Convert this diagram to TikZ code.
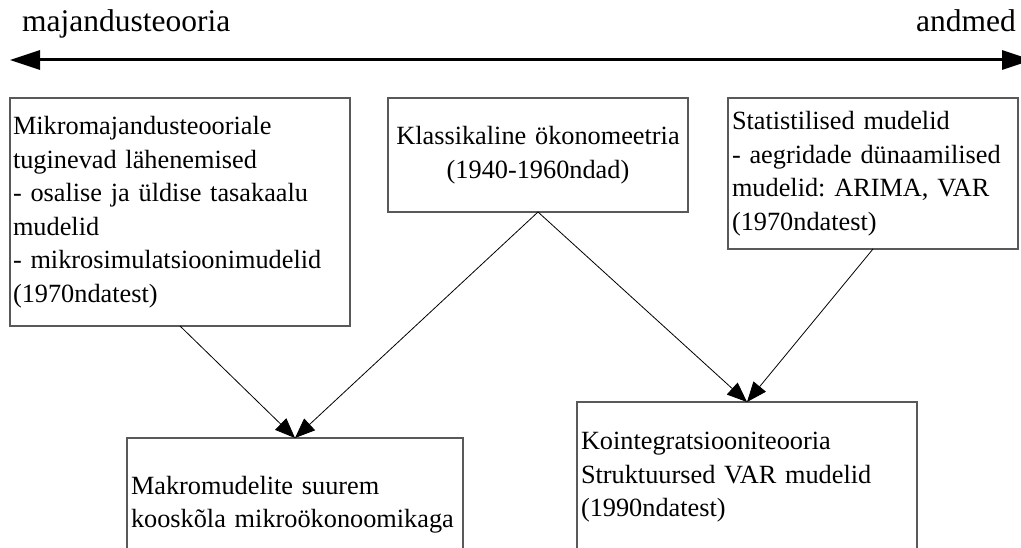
\documentclass[tikz,border=0pt]{standalone}
\usepackage{fontspec}
\setmainfont{Liberation Serif}
\usetikzlibrary{arrows.meta}
\frenchspacing
\begin{document}
\begin{tikzpicture}[x=1pt,y=-1pt,
  txt/.style={font=\fontsize{26.3}{33.5}\selectfont},
  lbl/.style={font=\fontsize{31.5}{36}\selectfont, inner sep=0pt},
  box/.style={draw=black!65, line width=1.1pt, inner sep=0pt, outer sep=0pt, anchor=north west, txt},
  conn/.style={-{Triangle[length=20pt,width=16pt]}, line width=0.8pt},
  axis/.style={{Triangle[length=30pt,width=19pt]}-{Triangle[length=30pt,width=19pt]}, line width=3pt}]
\useasboundingbox (0,0) rectangle (1021,548);
\clip (0,0) rectangle (1021,548);
\fill[white] (0,0) rectangle (1021,548);
% axis
\node[lbl, anchor=base west] (teo) at (22,32) {majandusteooria};
\node[lbl, anchor=base east] (and) at (1016,32) {andmed};
\coordinate (L) at (10,60);
\coordinate (R) at (1032,60);
\draw[axis] (L) -- (R);
% boxes
\node[box, minimum width=340pt, minimum height=228pt, text width=334pt, align=left] (mikro) at (10,98)
  {Mikromajandusteooriale\\tuginevad lähenemised\\- osalise ja üldise tasakaalu\\mudelid\\- mikrosimulatsioonimudelid\\(1970ndatest)};
\node[box, minimum width=300pt, minimum height=114pt, text width=292pt, align=center] (klass) at (388,98)
  {Klassikaline ökonomeetria\\(1940-1960ndad)};
\node[box, minimum width=290pt, minimum height=151pt, text width=282pt, align=left] (stat) at (728,98)
  {Statistilised mudelid\\- aegridade dünaamilised\\mudelid: ARIMA, VAR\\(1970ndatest)};
\node[box, minimum width=336pt, minimum height=133pt, text width=328pt, align=left] (makro) at (127,438)
  {Makromudelite suurem\\kooskõla mikroökonoomikaga};
\node[box, minimum width=340pt, minimum height=151pt, text width=332pt, align=left] (koint) at (577,402)
  {Kointegratsiooniteooria\\Struktuursed VAR mudelid\\(1990ndatest)};
% connectors
\draw[conn] (mikro.south) -- (makro.north);
\draw[conn] (klass.south) -- (makro.north);
\draw[conn] (klass.south) -- (koint.north);
\draw[conn] (stat.south) -- (koint.north);
\end{tikzpicture}
\end{document}
